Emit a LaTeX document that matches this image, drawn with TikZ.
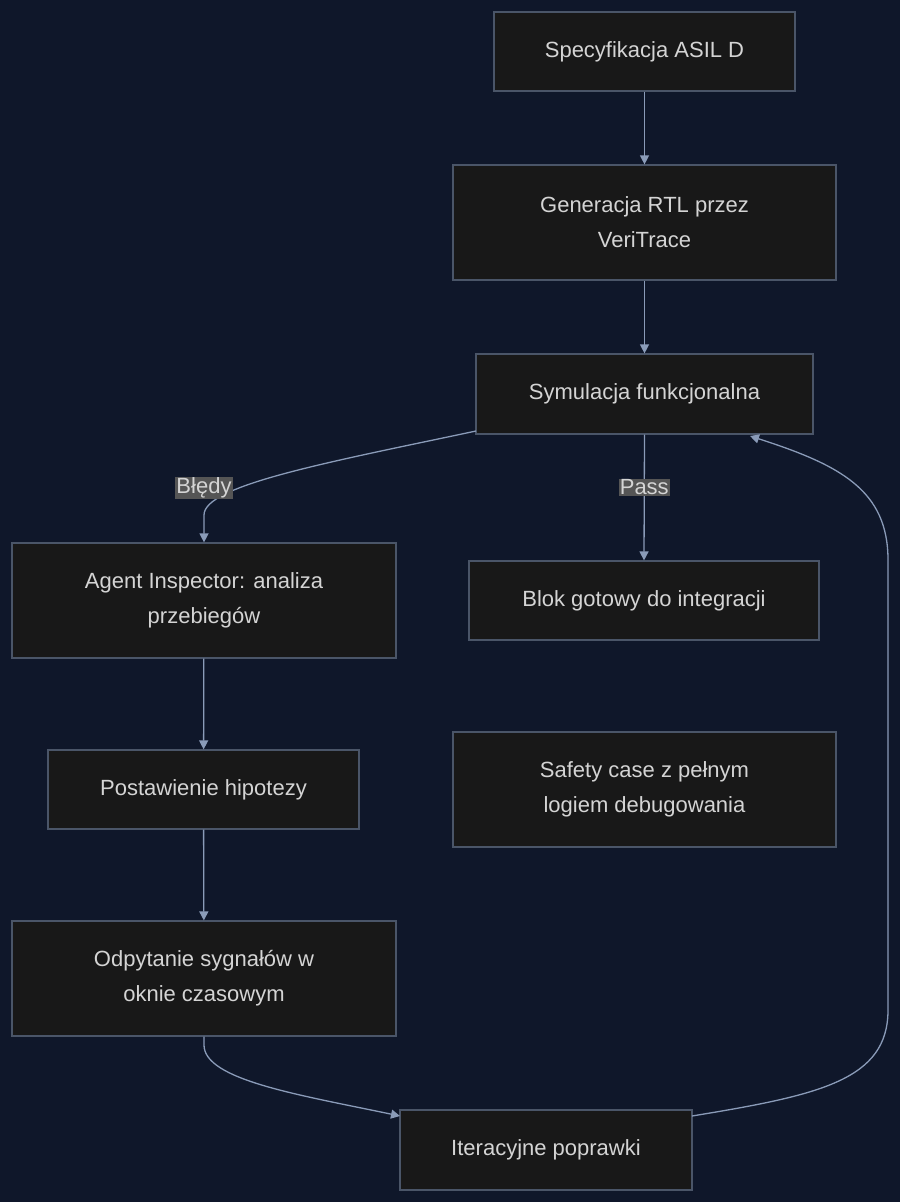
\documentclass[tikz,border=0pt]{standalone}
\usepackage{fontspec}
\setmainfont{Liberation Sans}
\usetikzlibrary{arrows.meta}
\definecolor{bg}{HTML}{0F172A}
\definecolor{bx}{HTML}{181818}
\definecolor{bd}{HTML}{4A5568}
\definecolor{tx}{HTML}{D4D4D4}
\definecolor{ln}{HTML}{8A9BB8}
\definecolor{lb}{HTML}{555555}
\begin{document}
\begin{tikzpicture}[x=1pt,y=-1pt,
  box/.style={draw=bd,fill=bx,line width=1.2pt,text=tx,font=\fontsize{22}{35}\selectfont,align=center,inner sep=0pt},
  lab/.style={fill=lb,text=tx,font=\fontsize{22}{26}\selectfont,inner sep=1pt},
  ar/.style={draw=ln,line width=1.3pt,-{Triangle[length=9pt,width=9pt]}}]
\fill[bg] (0,0) rectangle (900,1202);
\useasboundingbox (0,0) rectangle (900,1202);
\node[box,minimum width=301pt,minimum height=79pt] (A) at (644.5,51.5) {Specyfikacja ASIL D};
\node[box,minimum width=383pt,minimum height=115pt] (B) at (644.5,222.5) {Generacja RTL przez\\VeriTrace};
\node[box,minimum width=337pt,minimum height=80pt] (C) at (644.5,394) {Symulacja funkcjonalna};
\node[box,minimum width=384pt,minimum height=115pt] (D) at (204,600.5) {Agent Inspector: analiza\\przebiegów};
\node[box,minimum width=350pt,minimum height=79pt] (E) at (644,600.5) {Blok gotowy do integracji};
\node[box,minimum width=311pt,minimum height=79pt] (F) at (203.5,789.5) {Postawienie hipotezy};
\node[box,minimum width=383pt,minimum height=115pt] (G) at (644.5,789.5) {Safety case z pełnym\\logiem debugowania};
\node[box,minimum width=384pt,minimum height=115pt] (H) at (204,978.5) {Odpytanie sygnałów w\\oknie czasowym};
\node[box,minimum width=292pt,minimum height=80pt] (I) at (546,1150) {Iteracyjne poprawki};
\draw[ar] (A) -- (B);
\draw[ar] (B) -- (C);
\draw[ar] (C.south) -- (E.north) node[lab,pos=0.42] {Pass};
\draw[ar] (476,431) .. controls (330,462) and (204,485) .. (204,515) -- (D.north);
\node[lab] (L1) at (204,488) {Błędy};
\draw[ar] (D) -- (F);
\draw[ar] (F) -- (H);
\draw[ar] (H.south) -- (204,1045) .. controls (204,1080) and (300,1095) .. (400,1116);
\coordinate (Ct) at (750,436);
\draw[ar] (692,1116) .. controls (820,1095) and (888,1080) .. (888,1010) -- (888,560) .. controls (888,490) and (840,465) .. (Ct);
\end{tikzpicture}
\end{document}
